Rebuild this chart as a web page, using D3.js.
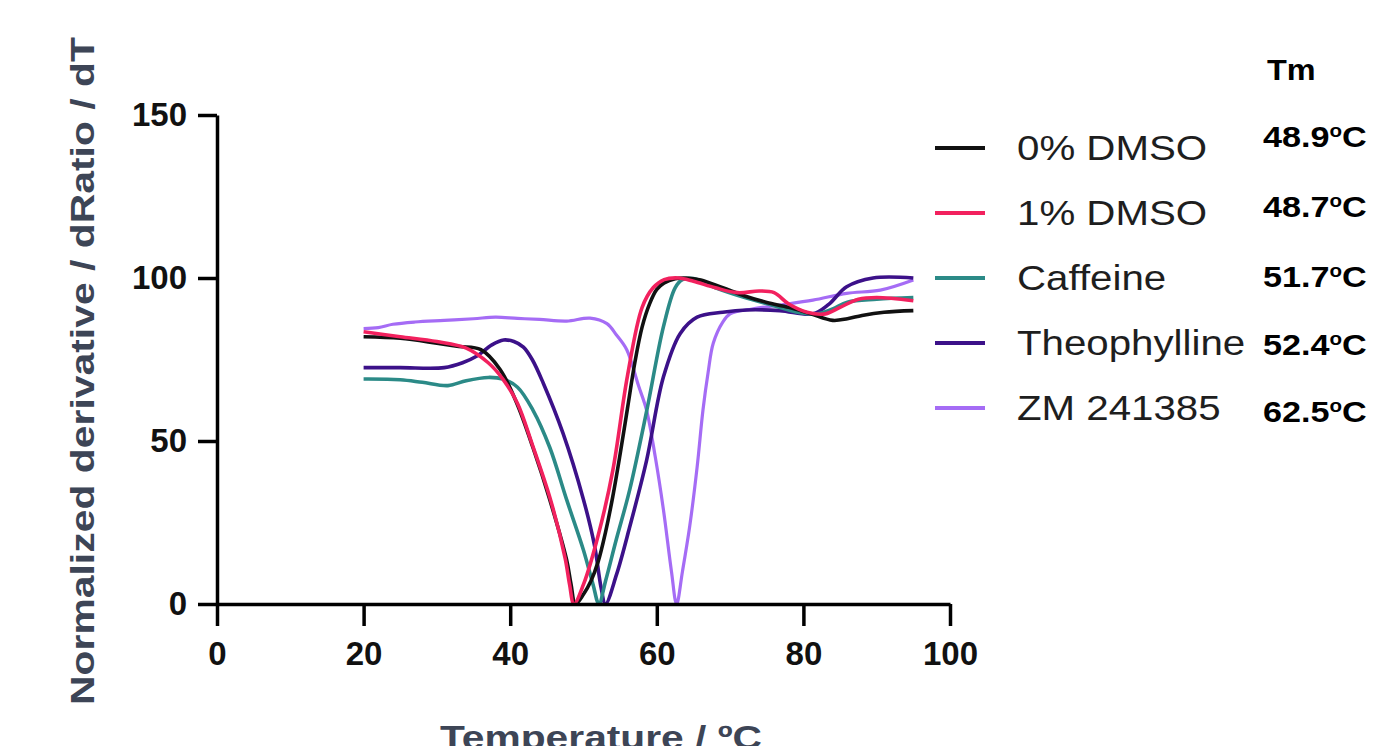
<!DOCTYPE html>
<html>
<head>
    <meta charset="utf-8">
    <script src="https://d3js.org/d3.v7.min.js"></script>
    <style>
        body { margin: 0; background: #fff; }
        text { font-family: "Liberation Sans", Arial, sans-serif; }
    </style>
</head>
<body>
    <svg width="1378" height="746"></svg>
    <script>
        // series names, Tm labels and colours
        var names = ["0% DMSO", "1% DMSO", "Caffeine", "Theophylline", "ZM 241385"];
        var tmLabels = ["48.9", "48.7", "51.7", "52.4", "62.5"];
        var colors = ["#111111", "#f2215e", "#2b8a87", "#3c1189", "#a56cf5"];

        var xTicks = [0, 20, 40, 60, 80, 100];
        var yTicks = [0, 50, 100, 150];

        // temperature (°C) / normalized derivative
        var tDmso0 = [20, 25, 30, 33, 36, 38.6, 40.9, 43.1, 45.4, 47.7, 48.3, 48.9, 50, 51, 52, 53, 54, 55, 56, 57, 58, 59, 60, 61, 62.5, 64, 66, 69, 72, 75, 78, 81, 84, 86, 88, 91, 95];
        var vDmso0 = [82, 81.5, 80, 79, 78, 72, 61.6, 48, 32, 13.5, 6, 0, 3, 7, 13, 22, 33, 46, 60, 74, 85, 92, 96.5, 98.5, 99.8, 100, 99.4, 97, 94.5, 92.5, 91, 89, 87, 87.5, 88.5, 89.5, 90];

        var tDmso1 = [20, 25, 30, 34, 37, 39, 41, 43, 45.5, 47.5, 48.1, 48.7, 50, 52, 54, 56, 58, 59.5, 61, 63, 65, 68, 71, 74, 76, 78, 80.5, 83, 85, 87.5, 90, 95];
        var vDmso1 = [83.5, 82, 80.5, 78.5, 74, 69, 61.5, 49, 32, 14, 6, 0, 6, 21, 41, 70, 91, 97, 99.5, 100, 99, 97, 95.5, 96, 95.5, 92, 89.5, 89, 91, 93.5, 94, 93];

        var tCaff = [20, 25, 28, 31.5, 34, 37, 39, 41, 43.1, 45.4, 47.7, 50, 51.3, 52.1, 53, 54.5, 56.3, 58.6, 60.9, 62.5, 63.5, 65, 68, 72, 76, 79, 82, 84, 86, 90, 95];
        var vCaff = [69, 68.8, 68, 67, 68.5, 69.5, 69, 66.5, 59.5, 48, 32, 16.5, 6, 0, 7, 20, 35, 59, 85, 97, 99.5, 99.8, 97, 94, 91.5, 89.6, 89, 90.5, 92.6, 93.5, 94];

        var tTheo = [20, 25, 31, 33.5, 35.4, 37.5, 39.1, 40.5, 41.8, 43, 44.5, 47.2, 50, 51.5, 52.4, 53, 54.5, 56.3, 58.6, 60.9, 63.2, 65.5, 69, 72.3, 76.8, 81.3, 83.5, 85.9, 89.5, 95];
        var vTheo = [72.5, 72.5, 72.5, 74, 76, 79.5, 81, 80.5, 78.8, 75, 67.8, 52.4, 32, 18, 5, 0, 9, 23.6, 44, 69.6, 83, 88, 89.5, 90.2, 90, 89, 92, 97.3, 100, 100];

        var tZm = [20, 22, 24, 27, 31, 35, 38, 41, 44, 47.7, 50.9, 53.2, 54.5, 55.9, 57.5, 58.6, 59.8, 60.9, 62, 62.7, 63.5, 64.5, 65.5, 66.3, 67, 67.7, 69, 70, 73, 76.8, 81.3, 85.9, 90.5, 95];
        var vZm = [84.5, 84.8, 85.8, 86.5, 87, 87.5, 88, 87.6, 87.3, 86.8, 87.7, 86, 82.5, 78, 67, 59.5, 45, 29, 10, 0, 10, 24, 42, 59.5, 71, 80, 86.5, 89, 90.5, 91.7, 93.2, 95.3, 96.3, 99.4];

        var temps = [tDmso0, tDmso1, tCaff, tTheo, tZm];
        var vals = [vDmso0, vDmso1, vCaff, vTheo, vZm];

        var svg = d3.select("svg");

        var x = d3.scaleLinear().domain([0, 100]).range([217, 950]);
        var y = d3.scaleLinear().domain([0, 150]).range([604, 115]);

        var line = d3.line()
            .x(function(d) { return x(d[0]); })
            .y(function(d) { return y(d[1]); })
            .curve(d3.curveCatmullRom.alpha(0.5));

        // curves (draw ZM first so it sits underneath)
        var order = [4, 3, 2, 0, 1];
        order.forEach(function(i) {
            var pts = temps[i].map(function(t, k) { return [t, vals[i][k]]; });
            svg.append("path")
                .attr("d", line(pts))
                .attr("fill", "none")
                .attr("stroke", colors[i])
                .attr("stroke-width", i == 4 ? 3.2 : 3.6)
                .attr("stroke-linejoin", "round");
        });

        // axes
        var xAxis = svg.append("g")
            .attr("transform", "translate(0," + y(0) + ")")
            .call(d3.axisBottom(x).tickValues(xTicks).tickSize(22).tickSizeOuter(0).tickPadding(16));
        var yAxis = svg.append("g")
            .attr("transform", "translate(" + x(0) + ",0)")
            .call(d3.axisLeft(y).tickValues(yTicks).tickSize(19).tickSizeOuter(0).tickPadding(11));

        [xAxis, yAxis].forEach(function(a) {
            a.select(".domain").attr("stroke", "#000").attr("stroke-width", 3.5);
            a.selectAll(".tick line").attr("stroke", "#000").attr("stroke-width", 3.5);
            a.selectAll(".tick text")
                .attr("fill", "#111")
                .style("font-family", "'Liberation Sans', Arial, sans-serif")
                .style("font-size", "33px")
                .style("font-weight", "bold");
        });

        // axis titles
        svg.append("text")
            .attr("transform", "translate(94,371) rotate(-90)")
            .attr("text-anchor", "middle")
            .attr("textLength", 668)
            .attr("lengthAdjust", "spacingAndGlyphs")
            .attr("fill", "#3d4556")
            .style("font-size", "34px")
            .style("font-weight", "bold")
            .text("Normalized derivative / dRatio / dT");

        // the reference crops this title at the bottom edge
        svg.append("text")
            .attr("x", 601)
            .attr("y", 749)
            .attr("text-anchor", "middle")
            .attr("textLength", 322)
            .attr("lengthAdjust", "spacingAndGlyphs")
            .attr("fill", "#3d4556")
            .style("font-size", "34px")
            .style("font-weight", "bold")
            .text("Temperature / ºC");

        // legend
        var legY = [148, 213, 278, 343, 408];
        var legend = svg.append("g");
        names.forEach(function(n, i) {
            legend.append("line")
                .attr("x1", 935).attr("x2", 985)
                .attr("y1", legY[i]).attr("y2", legY[i])
                .attr("stroke", colors[i])
                .attr("stroke-width", 4);
            legend.append("text")
                .attr("transform", "translate(1017," + (legY[i] + 12) + ") scale(1.15,1)")
                .attr("fill", "#1e1e1e")
                .style("font-size", "35px")
                .text(n);
        });

        // Tm column
        svg.append("text")
            .attr("transform", "translate(1267,80) scale(1.08,1)")
            .attr("fill", "#000")
            .style("font-size", "30px")
            .style("font-weight", "bold")
            .text("Tm");

        var tmY = [147, 217, 287, 355, 422];
        tmLabels.forEach(function(t, i) {
            var tx = svg.append("text")
                .attr("transform", "translate(1263," + tmY[i] + ") scale(1.14,1)")
                .attr("fill", "#000")
                .style("font-size", "30px")
                .style("font-weight", "bold");
            tx.append("tspan").text(t);
            tx.append("tspan").attr("dy", -10).style("font-size", "18px").text("o");
            tx.append("tspan").attr("dy", 10).text("C");
        });
    </script>
</body>
</html>
